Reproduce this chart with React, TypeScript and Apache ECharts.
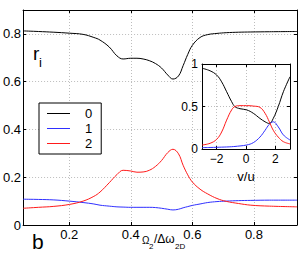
import React, { useEffect, useRef } from "react";
import * as echarts from "echarts";

// Main panel: r_i vs Omega_2 / Delta omega_2D
const mainX = [0.05, 0.10, 0.15, 0.20, 0.245, 0.28, 0.30, 0.33, 0.355, 0.375, 0.40, 0.42, 0.44, 0.46, 0.48, 0.50, 0.52, 0.537, 0.555, 0.57, 0.585, 0.60, 0.625, 0.65, 0.68, 0.71, 0.75, 0.79, 0.85, 0.94];
const mainR0 = [0.8125, 0.810, 0.807, 0.803, 0.798, 0.785, 0.774, 0.745, 0.708, 0.695, 0.698, 0.698, 0.695, 0.688, 0.676, 0.657, 0.628, 0.611, 0.624, 0.667, 0.714, 0.752, 0.785, 0.797, 0.802, 0.805, 0.807, 0.808, 0.809, 0.81];
const mainR1 = [0.108, 0.107, 0.105, 0.100, 0.094, 0.088, 0.083, 0.079, 0.076, 0.075, 0.074, 0.074, 0.074, 0.074, 0.073, 0.070, 0.066, 0.063, 0.066, 0.072, 0.077, 0.082, 0.088, 0.094, 0.098, 0.100, 0.102, 0.103, 0.104, 0.104];
const mainR2 = [0.070, 0.074, 0.078, 0.086, 0.100, 0.120, 0.138, 0.177, 0.211, 0.229, 0.226, 0.221, 0.222, 0.229, 0.245, 0.270, 0.303, 0.317, 0.298, 0.250, 0.210, 0.180, 0.150, 0.130, 0.111, 0.099, 0.090, 0.083, 0.079, 0.076];

// Inset: r_i vs v/u
const insetX = [-3, -2.45, -2.0, -1.66, -1.32, -0.98, -0.75, -0.41, 0.05, 0.5, 0.95, 1.3, 1.59, 1.86, 2.2, 2.55, 3];
const insetR0 = [0.95, 0.92, 0.87, 0.79, 0.674, 0.557, 0.498, 0.474, 0.46, 0.42, 0.36, 0.32, 0.30, 0.36, 0.5, 0.674, 0.85];
const insetR1 = [0.016, 0.018, 0.02, 0.022, 0.024, 0.027, 0.03, 0.036, 0.047, 0.075, 0.14, 0.22, 0.29, 0.32, 0.26, 0.165, 0.106];
const insetR2 = [0.047, 0.067, 0.114, 0.2, 0.34, 0.46, 0.5, 0.51, 0.51, 0.505, 0.49, 0.42, 0.32, 0.22, 0.14, 0.086, 0.06];

const seriesNames = ["0", "1", "2"];
const seriesColors = ["#000000", "#2f2fff", "#ff1a1a"];

const mainXTicks = [0.2, 0.4, 0.6, 0.8];
const mainYTicks = [0, 0.2, 0.4, 0.6, 0.8];
const insetXTicks = [-2, 0, 2];
const insetYTicks = [0, 0.5, 1];

const FONT = "Liberation Sans, Arial, Helvetica, sans-serif";

const zip = (xs: number[], ys: number[]) => xs.map((x, i) => [x, ys[i]]);

export default function App() {
  const ref = useRef<HTMLDivElement>(null);
  useEffect(() => {
    if (!ref.current) return;
    const chart = echarts.init(ref.current, undefined, { renderer: "svg" });
    const grid = { lineStyle: { color: "#bdbdbd", type: [1, 2] as any, width: 1 } };
    const fmt = (v: number) => String(v).replace("-", "\u2212");
    const mkX = (gridIndex: number, min: number, max: number, ticks: number[], pos: "bottom" | "top", labels: boolean, split: boolean, z: number, fs: number, margin: number, name?: string) => ({
      type: "value",
      gridIndex,
      min,
      max,
      position: pos,
      z,
      name,
      nameLocation: "middle",
      nameGap: 21,
      nameTextStyle: { color: "#000", fontSize: 13, fontFamily: FONT },
      axisLine: { show: true, onZero: false, lineStyle: { color: "#000", width: 1 } },
      axisTick: { show: true, inside: true, length: 3, customValues: ticks, lineStyle: { color: "#000" } },
      axisLabel: { show: labels, customValues: ticks, formatter: fmt, color: "#000", fontSize: fs, fontFamily: FONT, margin },
      splitLine: { show: split, ...grid },
    });
    const mkY = (gridIndex: number, min: number, max: number, ticks: number[], pos: "left" | "right", labels: boolean, split: boolean, z: number, fs: number, margin: number) => ({
      type: "value",
      gridIndex,
      min,
      max,
      position: pos,
      z,
      axisLine: { show: true, onZero: false, lineStyle: { color: "#000", width: 1 } },
      axisTick: { show: true, inside: true, length: 3, customValues: ticks, lineStyle: { color: "#000" } },
      axisLabel: { show: labels, customValues: ticks, formatter: fmt, color: "#000", fontSize: fs, fontFamily: FONT, margin },
      splitLine: { show: split, ...grid },
    });
    const mainData = [mainR0, mainR1, mainR2];
    const insetData = [insetR0, insetR1, insetR2];
    const series: any[] = [];
    seriesNames.forEach((n, i) => {
      series.push({
        type: "line",
        name: n,
        xAxisIndex: 0,
        yAxisIndex: 0,
        data: zip(mainX, mainData[i]),
        smooth: 0.4,
        symbol: "none",
        lineStyle: { color: seriesColors[i], width: 1 },
        itemStyle: { color: seriesColors[i] },
        z: 2,
      });
    });
    seriesNames.forEach((n, i) => {
      series.push({
        type: "line",
        name: n,
        xAxisIndex: 2,
        yAxisIndex: 2,
        data: zip(insetX, insetData[i]),
        smooth: 0.4,
        symbol: "none",
        lineStyle: { color: seriesColors[i], width: 1 },
        itemStyle: { color: seriesColors[i] },
        z: 12,
      });
    });
    chart.setOption({
      animation: false,
      backgroundColor: "#fff",
      textStyle: { fontFamily: FONT },
      grid: [
        { left: 23, top: 10, width: 274, height: 215, containLabel: false, z: 0 },
        { left: 202, top: 64, width: 88, height: 85, containLabel: false, show: true, backgroundColor: "#fff", borderWidth: 0, z: 10 },
      ],
      xAxis: [
        mkX(0, 0.05, 0.94, mainXTicks, "bottom", true, true, 1, 13, 3),
        mkX(0, 0.05, 0.94, mainXTicks, "top", false, false, 1, 13, 3),
        mkX(1, -3, 3, insetXTicks, "bottom", true, true, 11, 12, 4, "v/u"),
        mkX(1, -3, 3, insetXTicks, "top", false, false, 11, 12, 4),
      ],
      yAxis: [
        mkY(0, 0, 0.9, mainYTicks, "left", true, true, 1, 13, 2),
        mkY(0, 0, 0.9, mainYTicks, "right", false, false, 1, 13, 2),
        mkY(1, 0, 1, insetYTicks, "left", true, true, 11, 12, 4),
        mkY(1, 0, 1, insetYTicks, "right", false, false, 11, 12, 4),
      ],
      legend: {
        data: seriesNames.map((n, i) => ({ name: n, icon: "rect", itemStyle: { color: seriesColors[i], borderWidth: 0 } })),
        orient: "vertical",
        left: 39,
        top: 103,
        padding: [4, 9, 4, 8],
        itemWidth: 23,
        itemHeight: 1,
        itemGap: 2,
        backgroundColor: "#fff",
        borderColor: "#000",
        borderWidth: 1,
        borderRadius: 0,
        selectedMode: false,
        textStyle: { color: "#000", fontSize: 13, lineHeight: 12, fontFamily: FONT, padding: [0, 0, 0, 10] },
        z: 5,
      },
      graphic: [
        { type: "text", left: 33, top: 44, z: 20, style: { text: "r", fontSize: 19, fontFamily: FONT, fill: "#000" } },
        { type: "text", left: 39, top: 56, z: 20, style: { text: "i", fontSize: 13, fontFamily: FONT, fill: "#000" } },
        { type: "text", left: 32, top: 231, z: 20, style: { text: "b", fontSize: 21, fontFamily: FONT, fill: "#000" } },
        { type: "text", left: 142, top: 235, z: 20, style: { text: "\u03A9", fontSize: 10, fontFamily: FONT, fill: "#000" } },
        { type: "text", left: 149, top: 242, z: 20, style: { text: "2", fontSize: 8, fontFamily: FONT, fill: "#000" } },
        { type: "text", left: 154, top: 233, z: 20, style: { text: "/\u0394\u03C9", fontSize: 12, fontFamily: FONT, fill: "#000" } },
        { type: "text", left: 175, top: 242, z: 20, style: { text: "2D", fontSize: 8, fontFamily: FONT, fill: "#000" } },
      ],
      series,
    });
    return () => chart.dispose();
  }, []);
  return <div ref={ref} style={{ width: 299, height: 255, position: "absolute", left: 0, top: 0 }} />;
}
